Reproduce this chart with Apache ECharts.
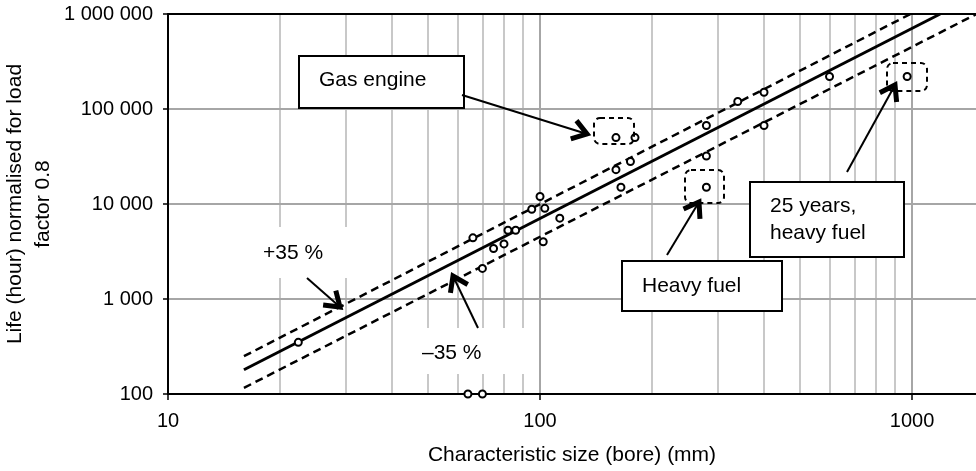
<!DOCTYPE html>
<html><head><meta charset="utf-8">
<script src="https://cdn.jsdelivr.net/npm/echarts@6/dist/echarts.min.js"></script>
<style>html,body{margin:0;padding:0;background:#fff}#c{width:976px;height:471px}</style>
</head><body><div id="c"></div>
<script>
// ---- data ----
const sizes = [22.4, 64, 70, 66, 70, 75, 80, 82, 86, 95, 100, 103, 102, 113, 160, 180, 160, 175, 165, 280, 280, 280, 340, 400, 400, 600, 970];
const lives = [350, 100, 100, 4400, 2100, 3400, 3800, 5300, 5300, 8800, 12000, 9000, 4000, 7100, 50000, 50000, 23000, 28000, 15000, 67000, 32000, 15000, 120000, 150000, 67000, 220000, 220000];
const fitX = [16, 1190];
const fitY = [180, 1000000];
const upperX = [16, 990];
const upperY = [250, 1000000];
const lowerX = [16, 1490];
const lowerY = [116, 1000000];
const xTicks = [10, 100, 1000];
const yTicks = [100, 1000, 10000, 100000, 1000000];
const minorGridX = [20, 30, 40, 50, 60, 70, 80, 90, 200, 300, 400, 500, 600, 700, 800, 900];
const majorGridX = [100, 1000];
const majorGridY = [1000, 10000, 100000];

const FONT = '"Liberation Sans", Arial, sans-serif';
const zip = (a, b) => a.map((v, i) => [v, b[i]]);
const fmtY = v => { const r = Math.round(v); return yTicks.includes(r) ? String(r).replace(/\B(?=(\d{3})+(?!\d))/g, ' ') : ''; };
const fmtX = v => { const r = Math.round(v); return xTicks.includes(r) ? String(r) : ''; };

function arrow(x1, y1, x2, y2) {
  const a = Math.atan2(y2 - y1, x2 - x1), L = 17, sp = 0.6;
  const p1 = [x2 - L * Math.cos(a - sp), y2 - L * Math.sin(a - sp)];
  const p2 = [x2 - L * Math.cos(a + sp), y2 - L * Math.sin(a + sp)];
  return [
    { type: 'line', z: 10, shape: { x1, y1, x2, y2 }, style: { stroke: '#000', lineWidth: 2 } },
    { type: 'polyline', z: 10, shape: { points: [p1, [x2, y2], p2] }, style: { stroke: '#000', fill: null, lineWidth: 5, lineJoin: 'miter' } }
  ];
}
function box(x, y, w, h, border) {
  return { type: 'rect', z: 9, shape: { x, y, width: w, height: h }, style: { fill: '#fff', stroke: border ? '#000' : null, lineWidth: 2 } };
}
function txt(x, y, t, va) {
  return { type: 'text', z: 11, x, y, style: { text: t, fontSize: 21, fontFamily: FONT, fill: '#000', verticalAlign: va || 'middle', lineHeight: 27 } };
}
function dbox(x, y, w, h) {
  return { type: 'rect', z: 10, shape: { x, y, width: w, height: h, r: 6 }, style: { fill: null, stroke: '#000', lineWidth: 2, lineDash: [5, 4] } };
}

const chart = echarts.init(document.getElementById('c'));
chart.setOption({
  animation: false,
  backgroundColor: '#fff',
  grid: { left: 168, top: 14, right: -12, bottom: 77, containLabel: false, outerBoundsMode: 'none' },
  xAxis: [{
    type: 'log', logBase: 10, min: 10, max: 1600, z: 3,
    axisLine: { lineStyle: { color: '#000', width: 2 } },
    axisTick: { show: true, length: 6, lineStyle: { color: '#000', width: 1.5 } },
    axisLabel: { formatter: fmtX, fontSize: 20, fontFamily: FONT, color: '#000', margin: 17 },
    splitLine: { show: false },
    name: 'Characteristic size (bore) (mm)', nameLocation: 'middle', nameGap: 51, nameMoveOverlap: false,
    nameTextStyle: { fontSize: 21, fontFamily: FONT, color: '#000', padding: [0, 12, 0, 0] }
  }, {
    type: 'log', logBase: 10, min: 10, max: 1600, position: 'top', z: 3,
    axisLine: { lineStyle: { color: '#000', width: 2 } },
    axisTick: { show: false }, axisLabel: { show: false }, splitLine: { show: false }
  }],
  yAxis: {
    type: 'log', logBase: 10, min: 100, max: 1000000, z: 3,
    axisLine: { lineStyle: { color: '#000', width: 2 } },
    axisTick: { show: true, length: 5, lineStyle: { color: '#000', width: 1.5 } },
    axisLabel: { formatter: fmtY, fontSize: 20, fontFamily: FONT, color: '#000', margin: 15 },
    splitLine: { show: false },
    name: 'Life (hour) normalised for load\nfactor 0.8', nameLocation: 'middle', nameGap: 111, nameRotate: 90, nameMoveOverlap: false,
    nameTextStyle: { fontSize: 21, fontFamily: FONT, color: '#000', lineHeight: 28, align: 'center' }
  },
  series: [
    { type: 'line', data: [], z: 1, silent: true,
      markLine: { silent: true, symbol: 'none', z: 1, label: { show: false },
        lineStyle: { color: '#c8c8c8', width: 2, type: 'solid' },
        data: minorGridX.map(v => ({ xAxis: v })) } },
    { type: 'line', data: [], z: 1, silent: true,
      markLine: { silent: true, symbol: 'none', z: 1, label: { show: false },
        lineStyle: { color: '#a6a6a6', width: 2, type: 'solid' },
        data: majorGridX.map(v => ({ xAxis: v })).concat(majorGridY.map(v => ({ yAxis: v }))) } },
    { type: 'line', data: zip(fitX, fitY), z: 4, symbol: 'none', lineStyle: { color: '#000', width: 3 } },
    { type: 'line', data: zip(upperX, upperY), z: 4, symbol: 'none', lineStyle: { color: '#000', width: 2.5, type: [8, 5] } },
    { type: 'line', data: zip(lowerX, lowerY), z: 4, symbol: 'none', lineStyle: { color: '#000', width: 2.5, type: [8, 5] } },
    { type: 'scatter', data: zip(sizes, lives), z: 5, symbol: 'circle', symbolSize: 7,
      itemStyle: { color: '#fff', borderColor: '#000', borderWidth: 2, opacity: 1 } }
  ],
  graphic: [
    box(299, 56, 165, 52, true), txt(319, 80, 'Gas engine'),
    ...arrow(462, 95, 587, 134),
    box(622, 261, 160, 50, true), txt(642, 286, 'Heavy fuel'),
    ...arrow(667, 255, 699, 202),
    box(750, 182, 154, 75, true), txt(770, 193, '25 years,\nheavy fuel', 'top'),
    ...arrow(847, 172, 895, 85),
    box(245, 227, 125, 51, false), txt(263, 253, '+35 %'),
    ...arrow(307, 278, 340, 307),
    box(405, 328, 130, 46, false), txt(422, 353, '\u201335 %'),
    ...arrow(478, 328, 453, 276),
    dbox(594, 118, 40, 26),
    dbox(685, 170, 39, 33),
    dbox(887, 63, 40, 28)
  ]
});
</script></body></html>
